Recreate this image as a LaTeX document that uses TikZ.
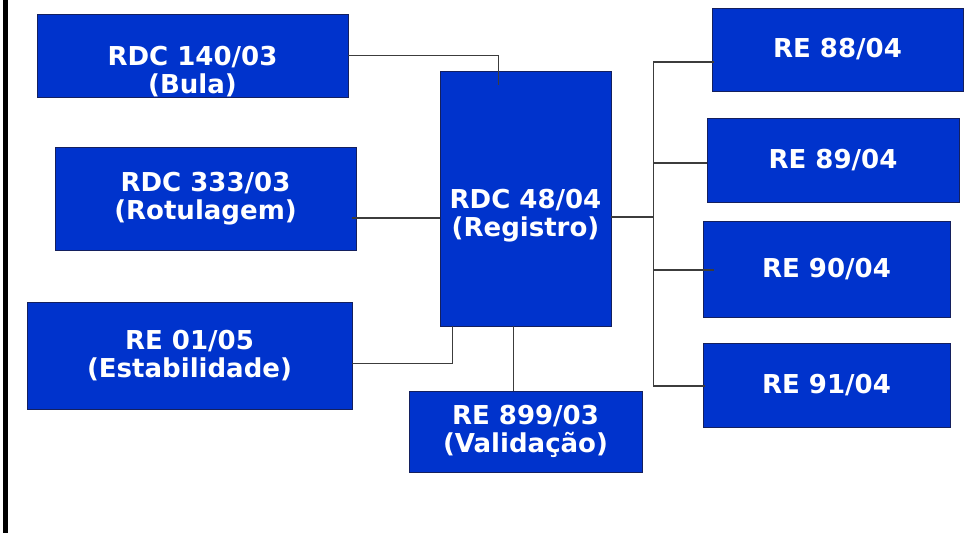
\documentclass[tikz,border=0pt]{standalone}
\usepackage{fontspec}
\setmainfont{DejaVu Sans}
\usepackage{xcolor}
\usepackage{tikz}
\usetikzlibrary{calc}
\definecolor{regblue}{HTML}{0033CC}
\definecolor{regedge}{HTML}{14205E}
\definecolor{linkgray}{HTML}{3C3C3C}
\newlength\unitpx
\setlength\unitpx{0.025cm}

\begin{document}
\begin{tikzpicture}[x=0.025cm,y=-0.025cm,
    box/.style={rectangle, draw=regedge, fill=regblue, line width=0.8\unitpx,
                inner sep=0pt, text=white, align=center,
                font=\fontsize{18.5pt}{20pt}\selectfont\bfseries},
    boxtxt/.style={inner sep=0pt, text=white, align=center,
                font=\fontsize{18.5pt}{20pt}\selectfont\bfseries},
    link/.style={draw=linkgray, line width=1.6\unitpx}]

  \useasboundingbox (0,0) rectangle (976,533);

  % -- the frame edge on the left, full height --
  \draw[line width=5\unitpx, black] (5.5,0) -- (5.5,533);

  % -- left column --
  \node[box, minimum width=311\unitpx, minimum height=83\unitpx] (bula) at (192.5,55.5) {};
  \node[boxtxt] (bulatxt) at ($(bula)+(0,16)$) {RDC 140/03\\(Bula)};
  \node[box, minimum width=301\unitpx, minimum height=103\unitpx] (rot) at (205.5,198.5)
      {RDC 333/03\\(Rotulagem)};
  \node[box, minimum width=325\unitpx, minimum height=107\unitpx] (est) at (189.5,355.5)
      {RE 01/05\\(Estabilidade)};

  % -- the centre: the registration rule, text sits low in its box --
  \node[box, minimum width=171\unitpx, minimum height=255\unitpx] (reg) at (525.5,198.5) {};
  \node[boxtxt] (regtxt) at ($(reg)+(0,17)$) {RDC 48/04\\(Registro)};
  \node[box, minimum width=233\unitpx, minimum height=81\unitpx] (val) at (525.5,431.5)
      {RE 899/03\\(Validação)};

  % -- right column --
  \foreach \n/\x/\y/\w/\h/\t in {%
      r88/837.5/49.5/251/83/{88/04},
      r89/833/160/252/84/{89/04},
      r90/826.5/269/247/96/{90/04},
      r91/826.5/385/247/84/{91/04}}{
    \node[box, minimum width=\w\unitpx, minimum height=\h\unitpx] (\n) at (\x,\y)
        {RE \t};}

  % -- connectors into the centre --
  \draw[link] (bula.east) -| ($(reg.north west)+(59,14)$);
  \draw[link] ($(rot.east)+(-4,19.5)$) coordinate (rotend) -- (rotend -| reg.west);
  \draw[link] ($(est.east)+(0,8)$) -| ($(reg.south west)+(13,0)$);
  \draw[link] ($(reg.south west)+(74,0)$) coordinate (valtop) -- (valtop |- val.north);

  % -- the bus to the RE column --
  \coordinate (hub) at ($(reg.east)+(42,18.5)$);
  \draw[link] ($(reg.east)+(0,18.5)$) -- (hub);
  \foreach \n/\dx/\dy in {r88/2/12.5, r89/0/3, r90/11/1, r91/2/1}{
    \draw[link] ($(\n.west)+(\dx,\dy)$) coordinate (e\n) -- (e\n -| hub);}
  \draw[link] (er88 -| hub) -- (er91 -| hub);
\end{tikzpicture}
\end{document}
